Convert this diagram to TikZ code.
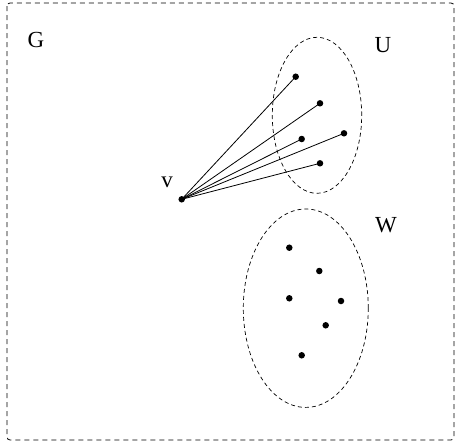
\documentclass[tikz,border=0pt]{standalone}
\usepackage{fontspec}
\setmainfont{Liberation Serif}
\usetikzlibrary{shapes.geometric}
\begin{document}
\begin{tikzpicture}[x=1pt,y=-1pt,
  dot/.style={circle,fill=black,inner sep=0pt,minimum size=6.5pt},
  lbl/.style={font=\fontsize{23}{27}\selectfont,inner sep=0pt},
  setline/.style={dash pattern=on 4pt off 3pt,line width=0.7pt},
  edge/.style={line width=0.8pt}]
\useasboundingbox (0,0) rectangle (456,442);
\draw[dash pattern=on 5pt off 4pt,line width=0.8pt,rounded corners=3pt] (7,3) rectangle (454,440);
\node[lbl] (G) at (36,40) {G};
\node[lbl] (U) at (383,45) {U};
\node[lbl] (W) at (386,225) {W};
\node[lbl] (vl) at (167,182) {v};
\node[draw,setline,ellipse,minimum width=89.4pt,minimum height=156pt,inner sep=0pt] (Uset) at (317,115.3) {};
\node[draw,setline,ellipse,minimum width=125pt,minimum height=198.4pt,inner sep=0pt] (Wset) at (305.8,308.2) {};
\node[dot] (v) at (181.7,199.3) {};
\node[dot] (u1) at (295.7,76.7) {};
\node[dot] (u2) at (320,103.3) {};
\node[dot] (u3) at (301.7,139) {};
\node[dot] (u4) at (344,133.3) {};
\node[dot] (u5) at (320,163.3) {};
\node[dot] (w1) at (289.3,247.7) {};
\node[dot] (w2) at (319.3,271) {};
\node[dot] (w3) at (289.3,298.3) {};
\node[dot] (w4) at (341,301) {};
\node[dot] (w5) at (325.7,325.3) {};
\node[dot] (w6) at (301.7,355.3) {};
\foreach \u in {u1,u2,u3,u4,u5} \draw[edge] (v.center) -- (\u.center);
\end{tikzpicture}
\end{document}
